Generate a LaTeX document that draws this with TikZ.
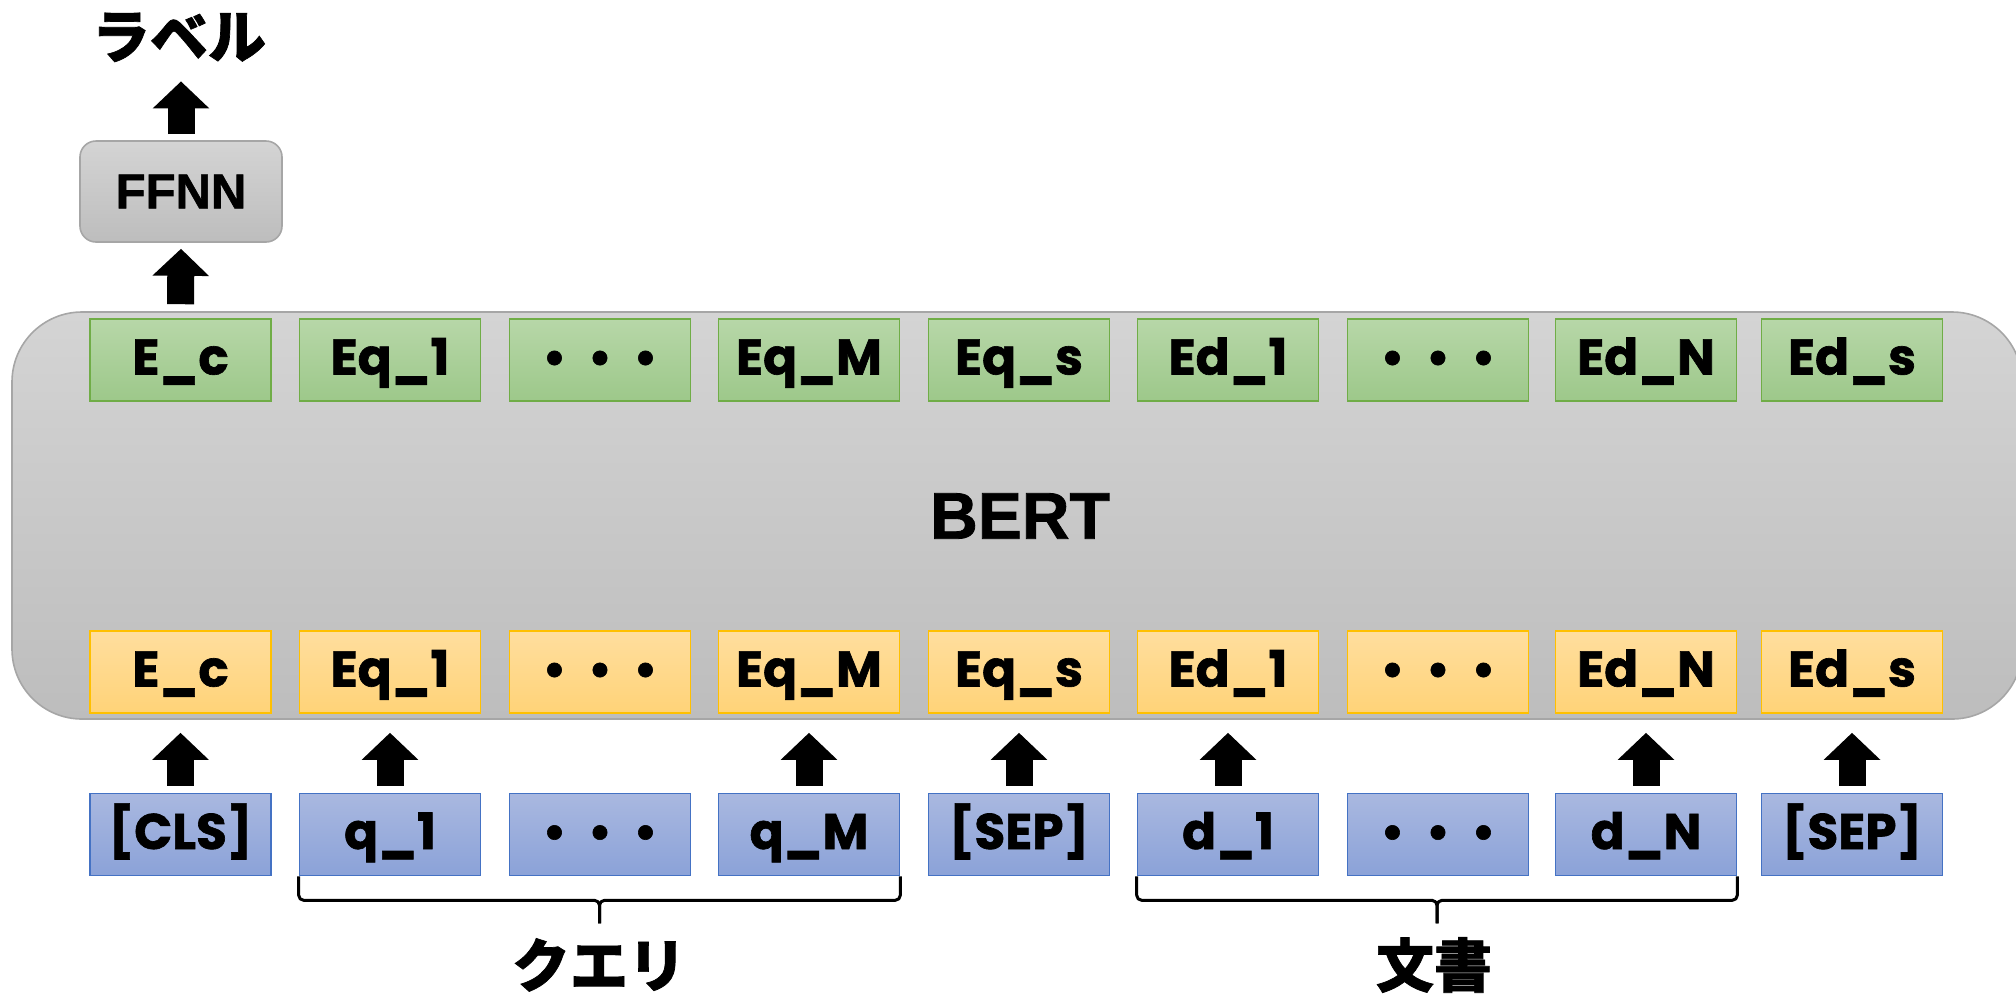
\documentclass[tikz,border=0pt]{standalone}
\usepackage{fontspec}
\setmainfont{Liberation Sans}[BoldFeatures={FakeBold=1.2}]
\newfontfamily\pop{Poppins}[BoldFeatures={FakeBold=1.3}]
\newfontfamily\cjk{Noto Sans CJK JP}[BoldFeatures={FakeBold=1.2}]
\usetikzlibrary{arrows.meta,calc}
\definecolor{grnT}{HTML}{B7D7A8}
\definecolor{grnBt}{HTML}{9DC88A}
\definecolor{grnD}{HTML}{70AD47}
\definecolor{ylwT}{HTML}{FFDE9E}
\definecolor{ylwBt}{HTML}{FFD378}
\definecolor{ylwD}{HTML}{FFC000}
\definecolor{bluT}{HTML}{A9B8E0}
\definecolor{bluBt}{HTML}{8BA2D8}
\definecolor{bluD}{HTML}{4472C4}
\definecolor{gryT}{HTML}{D4D4D4}
\definecolor{gryBt}{HTML}{BDBDBD}
\definecolor{gryD}{HTML}{A6A6A6}
\newcommand\tdots{{\normalfont\bfseries•\hspace{14pt}•\hspace{14pt}•}}
\tikzset{
  tok/.style={minimum width=90.5pt, minimum height=41pt, inner sep=0pt,
    text height=14.5pt, text depth=0pt,
    font=\pop\fontsize{25}{28}\selectfont\bfseries, line width=0.8pt},
  grn/.style={tok, draw=grnD, top color=grnT, bottom color=grnBt},
  ylw/.style={tok, draw=ylwD, top color=ylwT, bottom color=ylwBt},
  blu/.style={tok, draw=bluD, top color=bluT, bottom color=bluBt},
  bertbox/.style={draw=gryD, line width=0.8pt, top color=gryT, bottom color=gryBt,
    rounded corners=35pt, minimum width=1005pt, minimum height=203.5pt, inner sep=0pt},
  ffnnbox/.style={draw=gryD, line width=0.8pt, top color=gryT, bottom color=gryBt,
    rounded corners=8pt, minimum width=101pt, minimum height=50.5pt, inner sep=0pt,
    font=\fontsize{24.5}{28}\selectfont\bfseries},
  jp/.style={font=\cjk\bfseries\fontsize{29}{32}\selectfont, inner sep=0pt,
    text height=25pt, text depth=4pt},
  blk/.style={line width=13.5pt, -{Triangle[width=27.5pt,length=13.5pt]}, black},
  brc/.style={line width=1.5pt, black, line join=round}
}
\begin{document}
\begin{tikzpicture}[x=0.5pt,y=-0.5pt]
\useasboundingbox (0,0) rectangle (2016,997);
% BERT box
\node[bertbox] (bert) at (1017,515.5) {};
\node[font=\fontsize{33}{36}\selectfont\bfseries] (berttxt) at (1020,516) {BERT};
% FFNN and label
\node[ffnnbox] (ffnn) at (181,191.5) {FFNN};
\node[jp] (lab) at (179,37) {ラベル};
% green row
\node[grn] (g1) at (180.5,360) {E\_c};
\node[grn] (g2) at (390,360) {Eq\_1};
\node[grn] (g3) at (600,360) {\tdots};
\node[grn] (g4) at (809,360) {Eq\_M};
\node[grn] (g5) at (1019,360) {Eq\_s};
\node[grn] (g6) at (1228,360) {Ed\_1};
\node[grn] (g7) at (1438,360) {\tdots};
\node[grn] (g8) at (1646,360) {Ed\_N};
\node[grn] (g9) at (1852,360) {Ed\_s};
% yellow row
\node[ylw] (y1) at (180.5,672) {E\_c};
\node[ylw] (y2) at (390,672) {Eq\_1};
\node[ylw] (y3) at (600,672) {\tdots};
\node[ylw] (y4) at (809,672) {Eq\_M};
\node[ylw] (y5) at (1019,672) {Eq\_s};
\node[ylw] (y6) at (1228,672) {Ed\_1};
\node[ylw] (y7) at (1438,672) {\tdots};
\node[ylw] (y8) at (1646,672) {Ed\_N};
\node[ylw] (y9) at (1852,672) {Ed\_s};
% blue row
\node[blu] (b1) at (180.5,834.5) {[CLS]};
\node[blu] (b2) at (390,834.5) {q\_1};
\node[blu] (b3) at (600,834.5) {\tdots};
\node[blu] (b4) at (809,834.5) {q\_M};
\node[blu] (b5) at (1019,834.5) {[SEP]};
\node[blu] (b6) at (1228,834.5) {d\_1};
\node[blu] (b7) at (1438,834.5) {\tdots};
\node[blu] (b8) at (1646,834.5) {d\_N};
\node[blu] (b9) at (1852,834.5) {[SEP]};
% arrows
\draw[blk] ($(ffnn.north)+(0,-6)$) -- ($(ffnn.north |- lab.south)+(0,15)$);
\draw[blk] ($(g1.north)+(0,-14)$) -- ($(ffnn.south)+(0,6)$);
\foreach \i in {1,2,4,5,6,8,9}{
  \draw[blk] ($(b\i.north)+(0,-7)$) -- ($(y\i.south)+(0,19)$);
}
% braces
\coordinate (qtip) at ($(b2.south west)!0.5!(b4.south east)+(0,47)$);
\draw[brc] (b2.south west) -- ++(0,19)
  arc[start angle=180,end angle=90,radius=5] -- ($(qtip)+(-5,-23)$)
  arc[start angle=-90,end angle=0,radius=5] -- (qtip);
\draw[brc] (b4.south east) -- ++(0,19)
  arc[start angle=0,end angle=90,radius=5] -- ($(qtip)+(5,-23)$)
  arc[start angle=-90,end angle=-180,radius=5] -- (qtip);
\coordinate (dtip) at ($(b6.south west)!0.5!(b8.south east)+(0,47)$);
\draw[brc] (b6.south west) -- ++(0,19)
  arc[start angle=180,end angle=90,radius=5] -- ($(dtip)+(-5,-23)$)
  arc[start angle=-90,end angle=0,radius=5] -- (dtip);
\draw[brc] (b8.south east) -- ++(0,19)
  arc[start angle=0,end angle=90,radius=5] -- ($(dtip)+(5,-23)$)
  arc[start angle=-90,end angle=-180,radius=5] -- (dtip);
\node[jp] (query) at (599,966) {クエリ};
\node[jp] (doc) at (1434,966) {文書};
\end{tikzpicture}
\end{document}
